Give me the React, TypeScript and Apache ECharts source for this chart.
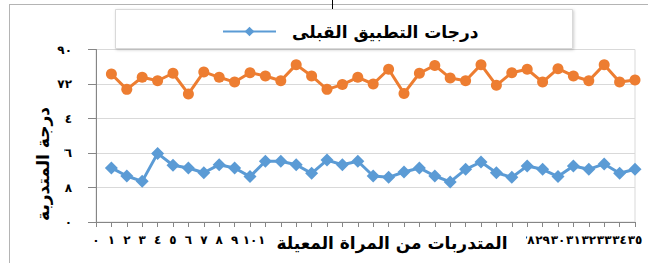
import React, { useEffect, useRef } from "react";
import * as echarts from "echarts";

const categories = ["٠","١","٢","٣","٤","٥","٦","٧","٨","٩","١٠","١١","١٢","١٣","١٤","١٥","١٦","١٧","١٨","١٩","٢٠","٢١","٢٢","٢٣","٢٤","٢٥","٢٦","٢٧","٢٨","٢٩","٣٠","٣١","٣٢","٣٣","٣٤","٣٥"];
const yTickLabels = ["٠","١٨","٣٦","٥٤","٧٢","٩٠"];
const preScores = [null, 28.2, 24.0, 21.2, 35.8, 29.6, 28.2, 25.7, 29.9, 28.2, 23.7, 31.7, 31.7, 29.9, 25.4, 32.3, 29.9, 31.7, 24.0, 23.3, 26.1, 28.2, 24.0, 20.9, 27.5, 31.3, 25.7, 23.3, 29.2, 27.5, 23.7, 29.2, 27.5, 30.3, 25.4, 27.5];
const postScores = [null, 77.2, 69.2, 75.5, 73.7, 77.6, 66.8, 78.3, 75.5, 73.0, 77.9, 76.2, 73.7, 82.1, 76.2, 69.2, 71.7, 75.5, 72.0, 79.7, 67.1, 77.6, 81.7, 75.1, 73.7, 82.1, 71.3, 77.9, 79.7, 73.0, 80.0, 76.2, 73.7, 82.1, 73.0, 74.1];
const preName = "درجات التطبيق القبلى";
const postName = "درجات التطبيق البعدى";
const xTitle = "المتدربات من المراة المعيلة";
const yTitle = "درجة المتدربة";
// tick labels hidden behind the x-axis title box in the reference
const hiddenXLabelRange = [12, 27];

const FONT = "'DejaVu Sans', sans-serif";

export default function App() {
  const ref = useRef<HTMLDivElement>(null);
  useEffect(() => {
    if (!ref.current) return;
    const chart = echarts.init(ref.current, null, { renderer: "svg" });
    chart.setOption({
      animation: false,
      backgroundColor: "#ffffff",
      grid: { left: 96, right: 13, top: 49.5, bottom: 41, show: true, borderColor: "#d9d9d9", borderWidth: 1 },
      legend: {
        data: [preName],
        left: 217,
        top: 18,
        z: 20,
        itemWidth: 53,
        itemHeight: 12,
        textStyle: { fontFamily: FONT, fontWeight: "bold", fontSize: 17, color: "#000", padding: [0, 0, 0, 11] },
      },
      xAxis: {
        type: "category",
        data: categories,
        boundaryGap: false,
        axisLine: { lineStyle: { color: "#868686", width: 1 } },
        axisTick: { show: true, length: 5, inside: false, lineStyle: { color: "#868686" } },
        axisLabel: {
          interval: 0,
          margin: 12,
          fontFamily: FONT,
          fontWeight: "bold",
          fontSize: 12,
          color: "#000",
          hideOverlap: false,
          formatter: (v: string, i: number) => (i >= hiddenXLabelRange[0] && i <= hiddenXLabelRange[1] ? "" : v),
        },
        splitLine: { show: false },
      },
      yAxis: {
        type: "value",
        min: 0,
        max: 90,
        interval: 18,
        axisLine: { show: true, lineStyle: { color: "#868686", width: 1 } },
        axisTick: { show: true, length: 8, lineStyle: { color: "#868686" } },
        axisLabel: {
          margin: 24,
          fontFamily: FONT,
          fontWeight: "bold",
          fontSize: 12,
          color: "#000",
          formatter: (v: number) => yTickLabels[Math.round(v / 18)] ?? "",
        },
        splitLine: { show: true, lineStyle: { color: "#d9d9d9", width: 1 } },
      },
      series: [
        {
          name: preName,
          type: "line",
          data: preScores,
          symbol: "diamond",
          symbolSize: 13,
          itemStyle: { color: "#5B9BD5" },
          lineStyle: { color: "#5B9BD5", width: 3 },
          connectNulls: false,
        },
        {
          name: postName,
          type: "line",
          data: postScores,
          symbol: "circle",
          symbolSize: 11,
          itemStyle: { color: "#ED7D31" },
          lineStyle: { color: "#ED7D31", width: 3 },
          connectNulls: false,
        },
      ],
      graphic: [
        { type: "line", z: 100, shape: { x1: 9.5, y1: 4, x2: 9.5, y2: 263 }, style: { stroke: "#b4b4b4", lineWidth: 1 } },
        { type: "line", z: 100, shape: { x1: 9, y1: 4.5, x2: 648, y2: 4.5 }, style: { stroke: "#b4b4b4", lineWidth: 1 } },
        { type: "line", z: 100, shape: { x1: 332.5, y1: 0, x2: 332.5, y2: 9 }, style: { stroke: "#000", lineWidth: 1 } },
        {
          type: "rect", z: 1,
          shape: { x: 115.5, y: 9.5, width: 457, height: 39 },
          style: { fill: "#ffffff", stroke: "#d9d9d9", lineWidth: 1, shadowBlur: 3, shadowColor: "rgba(0,0,0,0.2)", shadowOffsetX: 1, shadowOffsetY: 1 },
        },
        { type: "rect", z: 100, shape: { x: 266, y: 231, width: 260, height: 26 }, style: { fill: "#ffffff" } },
        {
          type: "text", z: 101, x: 392, y: 243,
          style: { text: xTitle, fontFamily: FONT, fontWeight: "bold", fontSize: 17, fill: "#000", align: "center", verticalAlign: "middle" },
        },
        { type: "rect", z: 100, shape: { x: 24, y: 98, width: 40, height: 132 }, style: { fill: "#ffffff" } },
        {
          type: "text", z: 101, x: 43, y: 164, rotation: Math.PI / 2,
          style: { text: yTitle, fontFamily: FONT, fontWeight: "bold", fontSize: 17, fill: "#000", align: "center", verticalAlign: "middle" },
        },
      ],
    });
    return () => chart.dispose();
  }, []);
  return <div ref={ref} style={{ position: "fixed", left: 0, top: 0, width: 648, height: 263 }} />;
}
